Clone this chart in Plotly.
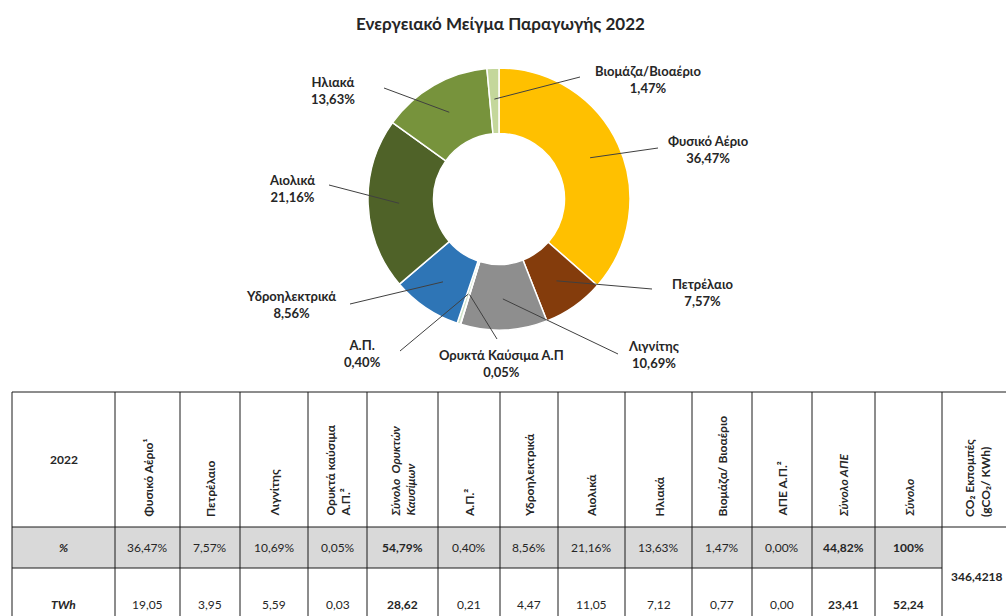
import math
import plotly.graph_objects as go

# ---- donut data -------------------------------------------------------
pie_labels = ["Φυσικό Αέριο", "Πετρέλαιο", "Λιγνίτης", "Ορυκτά Καύσιμα Α.Π",
              "Α.Π.", "Υδροηλεκτρικά", "Αιολικά", "Ηλιακά", "Βιομάζα/Βιοαέριο"]
pie_shares = [36.47, 7.57, 10.69, 0.05, 0.40, 8.56, 21.16, 13.63, 1.47]
pie_colors = ["#FFC000", "#843C0C", "#8E8E8E", "#BFBFBF", "#CFE3C8",
              "#2E75B6", "#4F6228", "#77933C", "#C4D79B"]

# ---- table data -------------------------------------------------------
col_headers = ["Φυσικό Αέριο¹", "Πετρέλαιο", "Λιγνίτης", "Ορυκτά καύσιμα<br>Α.Π.²",
               "<i>Σύνολο  Ορυκτών<br>Καυσίμων</i>", "Α.Π.²", "Υδροηλεκτρικά",
               "Αιολικά", "Ηλιακά", "Βιομάζα/ Βιοαέριο", "ΑΠΕ Α.Π.²",
               "<i>Σύνολο ΑΠΕ</i>", "<i>Σύνολο</i>"]
pct_values = [36.47, 7.57, 10.69, 0.05, 54.79, 0.40, 8.56, 21.16, 13.63, 1.47, 0.00, 44.82, 100]
twh_values = [19.05, 3.95, 5.59, 0.03, 28.62, 0.21, 4.47, 11.05, 7.12, 0.77, 0.00, 23.41, 52.24]
bold_cols = [4, 11, 12]
co2_header = "CO₂ Εκπομπές<br>(gCO₂/ KWh)"
co2_value = 346.4218
year_label = "2022"

W, H = 1006, 616
FONT = "Lato, 'Open Sans', sans-serif"
TXT = "#262626"


def gr(v, dec=2):
    return f"{v:.{dec}f}".replace(".", ",")


fig = go.Figure()

# donut geometry (pixels)
cx, cy, R = 499, 199, 131
fig.add_trace(go.Pie(
    labels=pie_labels, values=pie_shares, sort=False, direction="clockwise",
    rotation=0, hole=0.5, textinfo="none", hoverinfo="label+percent",
    marker=dict(colors=pie_colors, line=dict(color="white", width=1.5)),
    domain=dict(x=[(cx - R) / W, (cx + R) / W], y=[(H - cy - R) / H, (H - cy + R) / H]),
    showlegend=False,
))

# invisible pixel-space axes for the annotations and table
fig.add_trace(go.Scatter(x=[0, W], y=[0, H], mode="markers",
                         marker=dict(opacity=0), hoverinfo="skip", showlegend=False))

# label placement (centre of text block) and leader-line outer end
label_pos = [(708, 149), (703, 292), (653, 354), (501, 363), (362, 353),
             (291, 304), (292, 188), (333, 90), (648, 79)]
line_end = [(658, 148), (652, 289), (618, 354), (497, 339), (400, 351),
            (350, 304), (329, 185), (384, 88), (580, 77)]

shapes = []
annotations = []
cum = 0.0
total = sum(pie_shares)
for lab, v, (lx, ly), (ex, ey) in zip(pie_labels, pie_shares, label_pos, line_end):
    mid = (cum + v / 2) / total * 2 * math.pi
    cum += v
    r_in = 100
    px, py = cx + r_in * math.sin(mid), cy - r_in * math.cos(mid)
    shapes.append(dict(type="line", xref="x", yref="y", x0=px, y0=py, x1=ex, y1=ey,
                       line=dict(color="#404040", width=1)))
    annotations.append(dict(x=lx, y=ly, xref="x", yref="y", showarrow=False,
                            text=f"<b>{lab}<br>{gr(v)}%</b>", align="center",
                            font=dict(family=FONT, size=13, color=TXT)))

# title
annotations.append(dict(x=500, y=23, xref="x", yref="y", showarrow=False,
                        text="<b>Ενεργειακό Μείγμα Παραγωγής 2022</b>",
                        font=dict(family=FONT, size=17, color=TXT)))

# ---- table ------------------------------------------------------------
col_edges = [12, 115, 180, 240, 308, 367, 438, 500, 558, 625, 692, 752, 812, 875, 942, 1012]
row_top, row_hdr, row_pct, row_bot = 392, 527, 568, 622
LC = "#1a1a1a"

shapes.append(dict(type="rect", xref="x", yref="y", x0=col_edges[0], x1=col_edges[-2],
                   y0=row_hdr, y1=row_pct, fillcolor="#D9D9D9", line=dict(width=0), layer="below"))
for xe in col_edges:
    shapes.append(dict(type="line", xref="x", yref="y", x0=xe, x1=xe, y0=row_top, y1=row_bot,
                       line=dict(color=LC, width=1)))
for ye, xr in [(row_top, col_edges[-1]), (row_hdr, col_edges[-1]), (row_pct, col_edges[-2])]:
    shapes.append(dict(type="line", xref="x", yref="y", x0=col_edges[0], x1=xr, y0=ye, y1=ye,
                       line=dict(color=LC, width=1)))

hdr_font = dict(family=FONT, size=12, color=TXT)
val_font = dict(family=FONT, size=12, color=TXT)

annotations.append(dict(x=(col_edges[0] + col_edges[1]) / 2, y=(row_top + row_hdr) / 2,
                        xref="x", yref="y", showarrow=False, text=f"<b>{year_label}</b>",
                        font=val_font))
annotations.append(dict(x=(col_edges[0] + col_edges[1]) / 2, y=(row_hdr + row_pct) / 2,
                        xref="x", yref="y", showarrow=False, text="<b><i>%</i></b>", font=val_font))
annotations.append(dict(x=(col_edges[0] + col_edges[1]) / 2, y=(row_pct + 640) / 2,
                        xref="x", yref="y", showarrow=False, text="<b><i>TWh</i></b>", font=val_font))

headers_all = col_headers + [co2_header]
for i, htxt in enumerate(headers_all):
    xc = (col_edges[i + 1] + col_edges[i + 2]) / 2
    annotations.append(dict(x=xc, y=519, xref="x", yref="y", showarrow=False,
                            text=f"<b>{htxt}</b>", textangle=-90, align="left",
                            xanchor="center", yanchor="bottom", font=hdr_font))

for i, (p, t) in enumerate(zip(pct_values, twh_values)):
    xc = (col_edges[i + 1] + col_edges[i + 2]) / 2
    ptxt = "100%" if p == 100 else f"{gr(p)}%"
    ttxt = gr(t)
    if i in bold_cols:
        ptxt, ttxt = f"<b>{ptxt}</b>", f"<b>{ttxt}</b>"
    annotations.append(dict(x=xc, y=(row_hdr + row_pct) / 2, xref="x", yref="y",
                            showarrow=False, text=ptxt, font=val_font))
    annotations.append(dict(x=xc, y=(row_pct + 640) / 2, xref="x", yref="y",
                            showarrow=False, text=ttxt, font=val_font))

annotations.append(dict(x=977, y=576, xref="x", yref="y",
                        showarrow=False, text=f"<b>{gr(co2_value, 4)}</b>", font=val_font))

fig.update_layout(
    width=W, height=H, margin=dict(l=0, r=0, t=0, b=0),
    paper_bgcolor="white", plot_bgcolor="white",
    xaxis=dict(range=[0, W], visible=False, fixedrange=True),
    yaxis=dict(range=[H, 0], visible=False, fixedrange=True),
    shapes=shapes, annotations=annotations,
)

fig.write_html("out.html")
